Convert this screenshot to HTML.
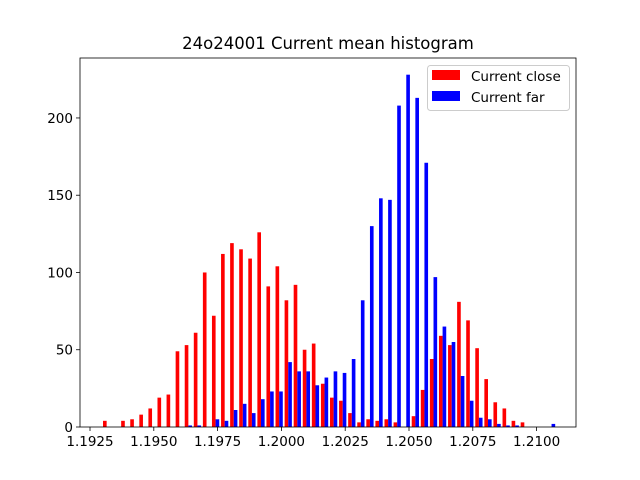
<!DOCTYPE html>
<html><head><meta charset="utf-8"><style>
body{margin:0;background:#fff;}
svg{display:block;font-family:"DejaVu Sans","Liberation Sans",sans-serif;}
</style></head><body>
<svg id="chart" width="640" height="480"></svg>
<script>
const binStart = 1.192974;
const binWidth = 0.0003558;
const closeCounts = [4,0,4,5,8,12,19,21,49,53,61,100,72,112,119,115,109,126,91,104,82,92,50,54,28,19,17,9,3,5,4,5,3,0,7,24,44,59,53,81,69,51,31,16,12,4,3,0,0,0];
const farCounts = [0,0,0,0,0,0,0,0,0,1,1,0,5,4,11,15,9,18,23,23,42,36,36,27,32,36,35,44,82,130,148,147,208,228,213,171,97,65,55,33,17,6,5,2,1,1,0,0,0,2];
const xTicks = [1.1925,1.1950,1.1975,1.2000,1.2025,1.2050,1.2075,1.2100];
const xTickLabels = ["1.1925","1.1950","1.1975","1.2000","1.2025","1.2050","1.2075","1.2100"];
const yTicks = [0,50,100,150,200];

const NS="http://www.w3.org/2000/svg";
const svg=document.getElementById('chart');
const L=80,R=576,T=58,B=427;
const xMin=1.192108,xMax=1.211544,yMax=238.8;
function sx(v){return L+(v-xMin)/(xMax-xMin)*(R-L);}
function sy(v){return B-v/yMax*(B-T);}
function mk(tag,attrs){const e=document.createElementNS(NS,tag);for(const k in attrs)e.setAttribute(k,attrs[k]);svg.appendChild(e);return e;}

const title=mk('text',{x:328,y:49,'text-anchor':'middle','font-size':16.5,fill:'#000'});
title.textContent='24o24001 Current mean histogram';



function drawSeries(counts,offset,color,name){
  counts.forEach((c,i)=>{
    if(c<=0)return;
    const x0=binStart+i*binWidth+offset*binWidth;
    const x1=x0+0.4*binWidth;
    const r=mk('rect',{x:sx(x0),y:sy(c),width:sx(x1)-sx(x0),height:sy(0)-sy(c),fill:color});
    
    
  });
}
drawSeries(closeCounts,0.1,'#ff0000','current-close');
drawSeries(farCounts,0.5,'#0000ff','current-far');

xTicks.forEach((t,i)=>{
  const x=sx(t);
  const tk=mk('line',{x1:x,x2:x,y1:B,y2:B+4,stroke:'#000','stroke-width':0.8});
  
  
  const lb=mk('text',{x:x,y:B+19,'text-anchor':'middle','font-size':13.5,fill:'#000'});
  lb.textContent=xTickLabels[i];
  
  
});
yTicks.forEach(t=>{
  const y=sy(t);
  const tk=mk('line',{x1:L-4,x2:L,y1:y,y2:y,stroke:'#000','stroke-width':0.8});
  
  
  const lb=mk('text',{x:L-7,y:y+5,'text-anchor':'end','font-size':13.5,fill:'#000'});
  lb.textContent=String(t);
  
  
});
const frame=mk('rect',{x:L,y:T,width:R-L,height:B-T,fill:'none',stroke:'#000','stroke-width':0.8});



const lg=mk('rect',{x:427.5,y:65.5,width:142,height:45,rx:3,fill:'#fff','fill-opacity':0.8,stroke:'#ccc'});


[['#ff0000','Current close',76],['#0000ff','Current far',97]].forEach(([c,t,y])=>{
  const s=mk('rect',{x:432,y:y-6,width:28,height:10,fill:c});
  
  
  const tx=mk('text',{x:471,y:y+5,'font-size':13.5,fill:'#000'});
  tx.textContent=t;
  
  
});
</script>
</body></html>
